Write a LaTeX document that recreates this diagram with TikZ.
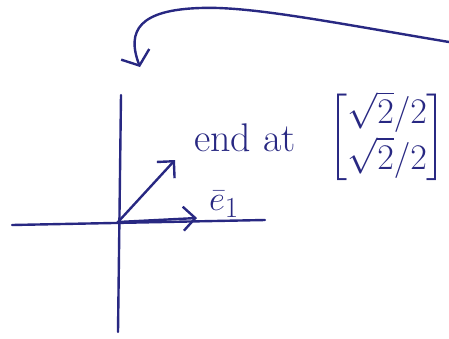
\documentclass[tikz,border=0pt]{standalone}
\usepackage{fontspec}
\usepackage{amsmath}
\usepackage{graphicx}
\usetikzlibrary{positioning, arrows.meta}
\definecolor{ink}{RGB}{40,40,130}

\begin{document}
\begin{tikzpicture}[
  x=1pt, y=-1pt,
  every node/.style={text=ink, inner sep=0pt, font=\fontsize{40}{48}\selectfont},
  axis/.style={draw=ink, line width=2.4pt, line cap=round},
  arrow/.style={axis, -{Straight Barb[length=12pt, width=24pt, line width=2.4pt]}},
  bigarrow/.style={axis, -{Straight Barb[length=12pt, width=30pt, line width=2.4pt]}}
]
\useasboundingbox (0,0) rectangle (449,338);

% Nodes
\coordinate (origin) at (118,222);
\coordinate (xleft) at (12,225);
\coordinate (xright) at (265,220);
\coordinate (ytop) at (121,95);
\coordinate (ybot) at (118,332);
\coordinate (vtip) at (175,160);
\coordinate (etip) at (197,218);
\coordinate (cstart) at (449,42);
\coordinate (cmid) at (200,8);
\coordinate (cend) at (140,67);

\node (endat) at (245,138) {end at};
\node[anchor=west, font=\Huge] (vec) at (328,137)
  {\scalebox{1.45}{$\begin{bmatrix}\sqrt{2}/2\\ \sqrt{2}/2\end{bmatrix}$}};
\node[font=\Huge] (e1) at (224,204) {\scalebox{1.4}{$\bar{e}_1$}};

% Axes
\draw[axis] (xleft) -- (xright);
\draw[axis] (ytop) -- (ybot);

% Arrows
\draw[arrow] (origin) -- (vtip);
\draw[arrow] (origin) -- (etip);
\draw[bigarrow] (cstart) .. controls (330,22) and (250,6) .. (cmid)
  .. controls (140,10) and (126,30) .. (cend);

\end{tikzpicture}
\end{document}
